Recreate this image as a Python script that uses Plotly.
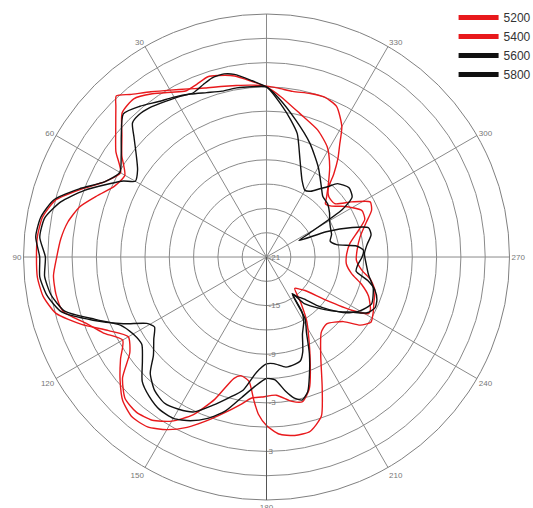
import plotly.graph_objects as go

# ---- data (dB vs azimuth, degrees) ----
theta_5200 = [0, 5, 10, 15, 20, 25, 30, 35, 40, 43, 45, 50, 55, 60, 65, 70, 75, 80, 85, 90,
              95, 100, 105, 110, 115, 120, 125, 130, 135, 140, 145, 150, 155, 160, 165, 168,
              172, 175, 177, 180, 184, 189, 194, 199, 203, 209, 216, 222, 230, 234, 238, 243,
              247, 253, 258, 262, 268, 274, 282, 289, 294, 298, 303, 308, 314, 318, 321, 324,
              327, 330, 335, 340, 345, 351, 356, 360]
r_5200 = [0.1, 0.3, 0.5, 0.8, 1.2, 1.9, 2.8, 3.9, 5.2, 6.2, 5.3, 3.3, 1.7, -0.2, 1.0, 3.4, 6.0, 7.1, 7.4, 7.4,
          7.4, 7.0, 5.9, 3.3, 0.5, -1.3, -0.4, 2.2, 3.7, 4.0, 3.6, 2.4, 0.5, -2.3, -5.5, -6.0,
          -5.5, -3.2, -1.6, -0.2, 0.9, 1.3, 1.2, -0.2, -3.4, -7.2, -9.5, -9.9, -8.6, -6.7, -5.8, -6.2,
          -6.6, -7.0, -7.9, -9.1, -9.9, -9.8, -9.2, -8.0, -6.8, -6.5, -8.5, -10.3, -10.3, -9.6, -7.8, -6.0,
          -4.4, -2.4, -0.5, 0.0, -0.1, -0.3, -0.1, 0.1]

theta_5400 = [0, 5, 10, 15, 18, 22, 26, 30, 35, 40, 45, 50, 55, 60, 65, 70, 75, 80, 85, 90,
              95, 100, 105, 110, 115, 120, 125, 130, 135, 140, 145, 150, 155, 160, 165, 170,
              174, 178, 184, 190, 194, 198, 204, 212, 217, 222, 226, 229, 234, 238, 241, 243,
              249, 254, 259, 265, 272, 279, 286, 291, 296, 300, 304, 308, 312, 315, 320, 325,
              331, 338, 347, 355, 360]
r_5400 = [0.0, 0.8, 1.7, 2.2, 2.4, 2.0, 1.8, 2.5, 3.6, 4.5, 4.2, 2.3, 0.8, -0.8, -0.3, 1.2, 2.9, 3.9, 4.5, 4.9,
          5.4, 5.4, 5.0, 2.8, 1.2, -0.5, 1.0, 2.6, 4.1, 4.8, 4.6, 3.6, 2.2, 0.5, -1.1, -2.5,
          -3.5, -3.7, -3.9, -2.9, -2.6, -3.9, -7.8, -11.6, -14.0, -15.8, -15.3, -14.7, -12.0, -8.6, -6.6, -6.6,
          -7.5, -8.8, -10.3, -11.1, -11.1, -10.6, -9.2, -8.0, -7.9, -8.8, -9.8, -10.8, -11.2, -10.5, -9.1, -7.4,
          -5.5, -4.1, -2.8, -1.1, 0.0]

theta_5600 = [0, 5, 10, 13, 17, 20, 24, 28, 33, 38, 42, 45, 48, 52, 56, 60, 62, 65, 70, 75,
              80, 85, 90, 95, 100, 105, 110, 115, 120, 125, 130, 135, 140, 145, 150, 155,
              160, 165, 170, 175, 180, 184, 188, 191, 194, 197, 200, 204, 208, 212, 215, 219,
              224, 228, 233, 237, 241, 245, 249, 253, 257, 261, 265, 270, 274, 277, 280, 284,
              289, 295, 300, 305, 311, 317, 322, 330, 339, 348, 356, 360]
r_5600 = [0.0, 0.9, 1.9, 2.2, 2.1, 1.7, 1.2, 1.5, 1.9, 2.4, 2.6, 2.4, 1.0, -0.6, -1.8, -2.3, -1.0, 0.4, 3.0, 5.3,
          6.8, 7.1, 6.3, 6.5, 6.0, 4.8, 1.5, -1.1, -2.0, -2.2, -1.0, 0.7, 1.5, 2.0, 2.0, 1.3,
          0.2, -1.3, -3.4, -5.0, -6.0, -5.8, -4.3, -3.3, -2.8, -3.6, -5.5, -8.0, -10.5, -12.0, -15.5, -13.6,
          -12.4, -11.3, -9.8, -8.5, -6.8, -6.2, -6.4, -7.0, -8.2, -9.8, -9.7, -9.2, -9.0, -9.8, -12.2, -12.9,
          -12.5, -12.3, -12.0, -11.5, -11.0, -10.8, -10.0, -8.2, -6.0, -3.7, -1.2, 0.0]

theta_5800 = [0, 5, 10, 15, 20, 25, 30, 35, 40, 45, 50, 55, 60, 65, 70, 75, 80, 85, 90, 95,
              100, 105, 110, 115, 119, 122, 126, 131, 135, 140, 145, 150, 155, 160, 165, 170,
              175, 180, 184, 190, 195, 198, 201, 205, 210, 213, 215, 218, 222, 226, 230, 235,
              240, 246, 254, 260, 265, 272, 277, 282, 286, 289, 293, 297, 299, 302, 305, 310,
              316, 319, 322, 326, 330, 335, 341, 346, 350, 354, 360]
r_5800 = [0.0, 0.1, 0.2, 0.2, 0.6, 1.2, 1.8, 2.4, 3.3, 4.0, 2.4, 0.9, -0.1, 1.0, 3.6, 6.2, 7.3, 7.6, 7.0, 7.1,
          6.5, 5.2, 1.8, -1.5, -4.1, -4.7, -3.8, -2.5, -0.7, 0.5, 1.0, 0.7, 0.1, -1.5, -3.0, -4.3,
          -6.7, -7.8, -7.8, -7.2, -7.3, -7.5, -8.5, -10.5, -11.8, -13.0, -15.4, -14.8, -14.0, -12.4, -10.9, -9.0,
          -7.7, -6.8, -7.3, -8.2, -8.6, -8.9, -8.5, -7.8, -7.9, -9.8, -13.0, -16.5, -15.0, -10.0, -8.1, -7.7,
          -8.4, -9.5, -10.3, -11.2, -11.5, -10.6, -8.3, -5.3, -3.8, -2.3, 0.0]

series_names = ["5200", "5400", "5600", "5800"]
series_colors = ["#e8191c", "#e8191c", "#111111", "#111111"]

angle_ticks = [0, 30, 60, 90, 120, 150, 180, 210, 240, 270, 300, 330]
angle_labels = ["", "30", "60", "90", "120", "150", "180", "210", "240", "270", "300", "330"]
ring_ticks = [-21, -18, -15, -12, -9, -6, -3, 0, 3, 6, 9]
ring_labels = ["-21", "", "-15", "", "-9", "", "-3", "", "3", "", ""]

thetas = [theta_5200, theta_5400, theta_5600, theta_5800]
radii = [r_5200, r_5400, r_5600, r_5800]

fig = go.Figure()
for name, th, rr, col in zip(series_names, thetas, radii, series_colors):
    fig.add_trace(go.Scatterpolar(
        r=rr, theta=th, mode="lines", name=name, showlegend=False, hoverinfo="skip",
        line=dict(color=col, width=1.4, shape="spline", smoothing=0.6)))
for name, col in zip(series_names, series_colors):
    fig.add_trace(go.Scatterpolar(
        r=[None], theta=[None], mode="lines", name=name, showlegend=True,
        line=dict(color=col, width=5)))

fig.update_layout(
    width=533, height=508,
    margin=dict(l=0, r=0, t=0, b=0, autoexpand=False),
    paper_bgcolor="white",
    font=dict(family="Liberation Sans, Arial, sans-serif"),
    showlegend=True,
    legend=dict(x=0.851, y=0.994, xanchor="left", yanchor="top",
                bgcolor="rgba(0,0,0,0)", borderwidth=0, itemwidth=40,
                font=dict(size=12, color="#333333"), tracegroupgap=0),
    polar=dict(
        domain=dict(x=[0.0441, 0.9559], y=[0.0157, 0.9724]),
        bgcolor="white",
        angularaxis=dict(
            rotation=90, direction="counterclockwise",
            tickmode="array", tickvals=angle_ticks, ticktext=angle_labels,
            showline=True, linecolor="#808080", linewidth=1,
            showgrid=True, gridcolor="#8a8a8a", gridwidth=1,
            ticks="", tickfont=dict(size=8, color="#777777")),
        radialaxis=dict(
            range=[-21, 9], tickmode="array", tickvals=ring_ticks, ticktext=ring_labels,
            angle=-90, tickangle=-90, side="counterclockwise",
            showline=True, linecolor="#555555", linewidth=1,
            showgrid=True, gridcolor="#8a8a8a", gridwidth=1,
            ticks="", tickfont=dict(size=8, color="#777777")),
    ),
)

fig.write_html("out.html", config={"displayModeBar": False, "staticPlot": True},
               post_script="document.body.style.margin='0';document.body.style.padding='0';")
